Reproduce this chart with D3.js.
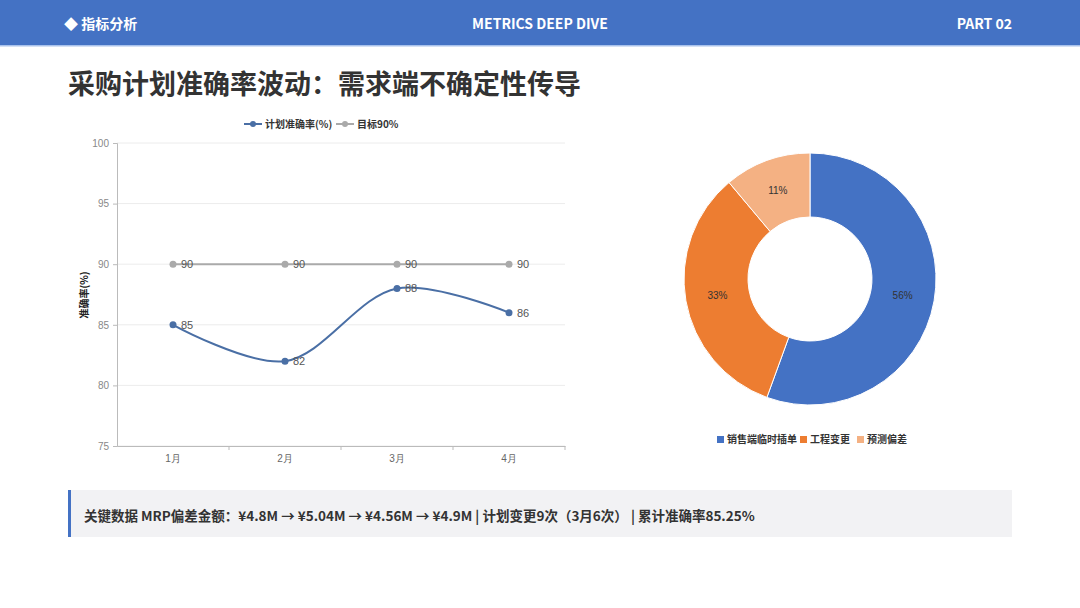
<!DOCTYPE html>
<html>
<head>
<meta charset="utf-8">
<script src="https://cdn.jsdelivr.net/npm/d3@7"></script>
<style>
  body { margin: 0; background: #fff; font-family: "Noto Sans CJK SC", "Noto Sans", sans-serif; }
</style>
</head>
<body>
<script>
// line chart data
const months = ["1月", "2月", "3月", "4月"];
const accuracy = [85, 82, 88, 86];
const target = [90, 90, 90, 90];
const yTicks = [75, 80, 85, 90, 95, 100];

// donut data (plan change causes, 9 total)
const causes = ["销售端临时插单", "工程变更", "预测偏差"];
const causeCounts = [5, 3, 1];
const causeColors = ["#4472C4", "#ED7D31", "#F4B183"];

const W = 1080, H = 608;
const svg = d3.select("body").append("svg")
    .attr("width", W)
    .attr("height", H);

// header bar
svg.append("rect").attr("x", 0).attr("y", 0).attr("width", W).attr("height", 46).attr("fill", "#4472C4");
svg.append("rect").attr("x", 0).attr("y", 45).attr("width", W).attr("height", 1.5).attr("fill", "#a9c2ec");
svg.append("text").attr("x", 64).attr("y", 29).attr("fill", "#fff")
    .attr("font-size", 14).attr("font-weight", "bold").text("◆ 指标分析");
svg.append("text").attr("x", 540).attr("y", 29).attr("fill", "#fff").attr("text-anchor", "middle")
    .attr("font-size", 14).attr("font-weight", "bold").text("METRICS DEEP DIVE");
svg.append("text").attr("x", 1012).attr("y", 29).attr("fill", "#fff").attr("text-anchor", "end")
    .attr("font-size", 14).attr("font-weight", "bold").text("PART 02");

// title
svg.append("text").attr("x", 68).attr("y", 94).attr("fill", "#333")
    .attr("font-size", 27).attr("font-weight", "bold").text("采购计划准确率波动：需求端不确定性传导");

////// line chart
const x = d3.scaleBand().domain(months).range([117, 565]);
const y = d3.scaleLinear().domain([75, 100]).range([446, 143]);
const cx = d => x(d) + x.bandwidth() / 2;

const g = svg.append("g");

// grid
g.selectAll(".grid").data(yTicks).join("line")
    .attr("x1", 117).attr("x2", 565)
    .attr("y1", d => y(d)).attr("y2", d => y(d))
    .attr("stroke", "#ececec");

const yAxis = g.append("g").attr("transform", "translate(117,0)")
    .call(d3.axisLeft(y).tickValues(yTicks).tickSize(4).tickPadding(4));
yAxis.select(".domain").attr("stroke", "#bbb");
yAxis.selectAll(".tick line").attr("stroke", "#bbb");
yAxis.selectAll("text").attr("fill", "#888").attr("font-size", 10).attr("font-family", "Liberation Sans, Arial");

const xAxis = g.append("g").attr("transform", "translate(0,446)")
    .call(d3.axisBottom(x).tickSize(0).tickPadding(9));
xAxis.select(".domain").attr("stroke", "#bbb");
xAxis.selectAll("text").attr("fill", "#666").attr("font-size", 10);
// band boundary ticks
g.selectAll(".xt").data(months).join("line")
    .attr("x1", d => x(d) + x.bandwidth()).attr("x2", d => x(d) + x.bandwidth())
    .attr("y1", 446).attr("y2", 450).attr("stroke", "#bbb");

g.append("text")
    .attr("transform", "translate(88,295) rotate(-90)")
    .attr("text-anchor", "middle").attr("font-size", 10).attr("font-weight", "bold").attr("fill", "#222")
    .text("准确率(%)");

// target line
const straight = d3.line().x((d, i) => cx(months[i])).y(d => y(d));
g.append("path").attr("d", straight(target)).attr("fill", "none").attr("stroke", "#aaa").attr("stroke-width", 2);
g.selectAll(".tp").data(target).join("circle")
    .attr("cx", (d, i) => cx(months[i])).attr("cy", d => y(d)).attr("r", 3.5).attr("fill", "#aaa");
g.selectAll(".tl").data(target).join("text")
    .attr("x", (d, i) => cx(months[i]) + 8).attr("y", d => y(d) + 4)
    .attr("font-size", 11).attr("fill", "#555").attr("font-family", "Liberation Sans, Arial").text(d => d);

// accuracy line
const smooth = d3.line().x((d, i) => cx(months[i])).y(d => y(d)).curve(d3.curveCatmullRom);
g.append("path").attr("d", smooth(accuracy)).attr("fill", "none").attr("stroke", "#4a6fa5").attr("stroke-width", 2);
g.selectAll(".ap").data(accuracy).join("circle")
    .attr("cx", (d, i) => cx(months[i])).attr("cy", d => y(d)).attr("r", 3.5).attr("fill", "#4a6fa5");
g.selectAll(".al").data(accuracy).join("text")
    .attr("x", (d, i) => cx(months[i]) + 8).attr("y", d => y(d) + 4)
    .attr("font-size", 11).attr("fill", "#555").attr("font-family", "Liberation Sans, Arial").text(d => d);

// line legend
const leg = svg.append("g").attr("font-size", 10).attr("font-weight", "bold").attr("fill", "#333");
leg.append("line").attr("x1", 244).attr("x2", 262).attr("y1", 124).attr("y2", 124).attr("stroke", "#4a6fa5").attr("stroke-width", 2);
leg.append("circle").attr("cx", 253).attr("cy", 124).attr("r", 3).attr("fill", "#4a6fa5");
leg.append("text").attr("x", 265).attr("y", 128).text("计划准确率(%)");
leg.append("line").attr("x1", 336).attr("x2", 354).attr("y1", 124).attr("y2", 124).attr("stroke", "#aaa").attr("stroke-width", 2);
leg.append("circle").attr("cx", 345).attr("cy", 124).attr("r", 3).attr("fill", "#aaa");
leg.append("text").attr("x", 357).attr("y", 128).text("目标90%");

////// donut
const total = d3.sum(causeCounts);
const pie = d3.pie().sort(null)(causeCounts);
const arc = d3.arc().innerRadius(62).outerRadius(126);
const labelArc = d3.arc().innerRadius(94).outerRadius(94);
const dg = svg.append("g").attr("transform", "translate(810,279)");
dg.selectAll("path").data(pie).join("path")
    .attr("d", arc).attr("fill", (d, i) => causeColors[i])
    .attr("stroke", "#fff").attr("stroke-width", 1);
dg.selectAll("text").data(pie).join("text")
    .attr("transform", d => `translate(${labelArc.centroid(d)})`)
    .attr("text-anchor", "middle").attr("dy", "0.35em")
    .attr("font-size", 10).attr("fill", "#333").attr("font-family", "Liberation Sans, Arial")
    .text(d => Math.round(d.data / total * 100) + "%");

// donut legend
const dl = svg.append("g").attr("font-size", 10).attr("font-weight", "bold").attr("fill", "#333");
const legX = [717, 800, 857];
causes.forEach((c, i) => {
    dl.append("rect").attr("x", legX[i]).attr("y", 436).attr("width", 7).attr("height", 7).attr("fill", causeColors[i]);
    dl.append("text").attr("x", legX[i] + 10).attr("y", 443).text(c);
});

////// bottom note
svg.append("rect").attr("x", 68).attr("y", 490).attr("width", 944).attr("height", 47).attr("fill", "#f2f2f4");
svg.append("rect").attr("x", 68).attr("y", 490).attr("width", 3).attr("height", 47).attr("fill", "#4472C4");
svg.append("text").attr("x", 84).attr("y", 521).attr("fill", "#333")
    .attr("font-size", 13.5).attr("font-weight", "bold")
    .text("关键数据 MRP偏差金额：¥4.8M → ¥5.04M → ¥4.56M → ¥4.9M | 计划变更9次（3月6次） | 累计准确率85.25%");
</script>
</body>
</html>
